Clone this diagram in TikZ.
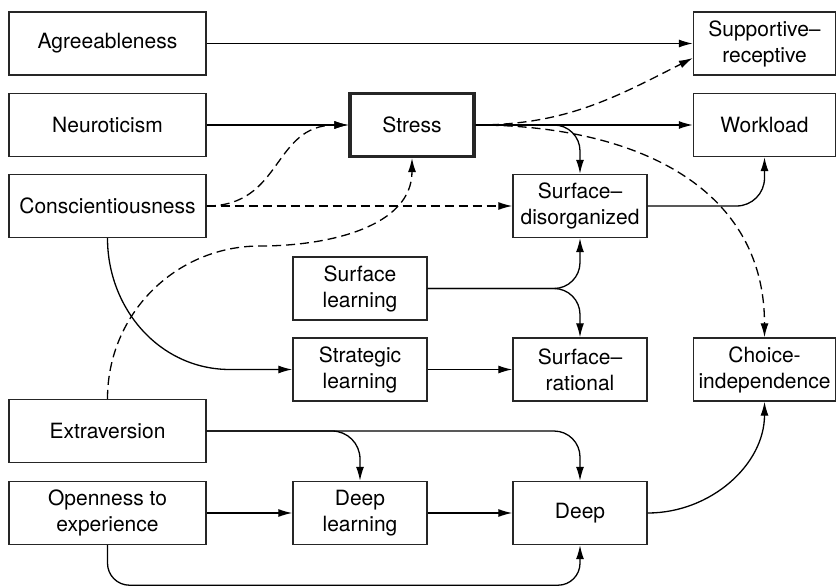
\documentclass[tikz,border=0pt]{standalone}
\usepackage{fontspec}
\setmainfont{TeX Gyre Heros}
\usetikzlibrary{arrows.meta,calc}
\begin{document}
\begin{tikzpicture}[x=1pt,y=-1pt,
  box/.style={draw=black!85,line width=1.4pt,inner sep=0pt,align=center,
    font=\fontsize{21}{26}\selectfont,minimum height=63pt},
  wide/.style={box,minimum width=197pt},
  mid/.style={box,minimum width=134pt},
  rbox/.style={box,minimum width=142pt},
  arr/.style={line width=1.3pt,-{Latex[length=14pt,width=8pt]}},
  dsh/.style={arr,dash pattern=on 9pt off 5pt}]
\useasboundingbox (0,0) rectangle (837,588);
\node[wide] (agr) at (107.5,43.5) {Agreeableness};
\node[wide] (neu) at (107.5,125) {Neuroticism};
\node[wide] (con) at (107.5,206) {Conscientiousness};
\node[wide] (ext) at (107.5,431) {Extraversion};
\node[wide] (ope) at (107.5,513) {Openness to\\experience};
\node[box,minimum width=124pt,line width=3.2pt] (str) at (412,125) {Stress};
\node[mid] (sle) at (360,288.5) {Surface\\learning};
\node[mid] (stl) at (360,369.5) {Strategic\\learning};
\node[mid] (dle) at (360,513) {Deep\\learning};
\node[mid] (sdi) at (580,206) {Surface–\\disorganized};
\node[mid] (sra) at (580,369.5) {Surface–\\rational};
\node[mid] (dee) at (580,513) {Deep};
\node[rbox] (sup) at (764.5,43.5) {Supportive–\\receptive};
\node[rbox] (wor) at (764.5,125) {Workload};
\node[rbox] (cho) at (764.5,369.5) {Choice-\\independence};
\coordinate (supin) at ($(sup.west)+(0,14.5)$);
\coordinate (c1) at (230,369.5);
\coordinate (c2) at (260,246);
% solid connectors
\draw[arr] (agr.east) -- (sup.west);
\draw[arr] (neu.east) -- (str.west);
\draw[arr] (str.east) -- (wor.west);
\draw[arr,rounded corners=26pt] (str.east) -| (sdi.north);
\draw[arr,rounded corners=28pt] (sdi.east) -| (wor.south);
\draw[arr,rounded corners=26pt] (sle.east) -| (sdi.south);
\draw[arr,rounded corners=26pt] (sle.east) -| (sra.north);
\draw[arr] (stl.east) -- (sra.west);
\draw[arr,rounded corners=28pt] (ext.east) -| (dle.north);
\draw[arr,rounded corners=26pt] (ext.east) -| (dee.north);
\draw[arr] (ope.east) -- (dle.west);
\draw[arr] (dle.east) -- (dee.west);
\draw[arr,rounded corners=22pt] (ope.south) -- ++(0,40) -| (dee.south);
\draw[arr] (dee.east) to[out=0,in=-90] (cho.south);
\draw[arr] (con.south) to[out=-90,in=180] (c1) -- (stl.west);
% dashed connectors
\draw[dsh] (con.east) -- (sdi.west);
\draw[dsh] (con.east) to[out=0,in=180,looseness=1.2] (str.west);
\draw[dsh] (ext.north) to[out=90,in=180] (c2) to[out=0,in=-90] (str.south);
\draw[dsh] (str.east) to[out=0,in=207] (supin);
\draw[dsh] (str.east) to[out=0,in=90,looseness=1.1] (cho.north);
\end{tikzpicture}
\end{document}
